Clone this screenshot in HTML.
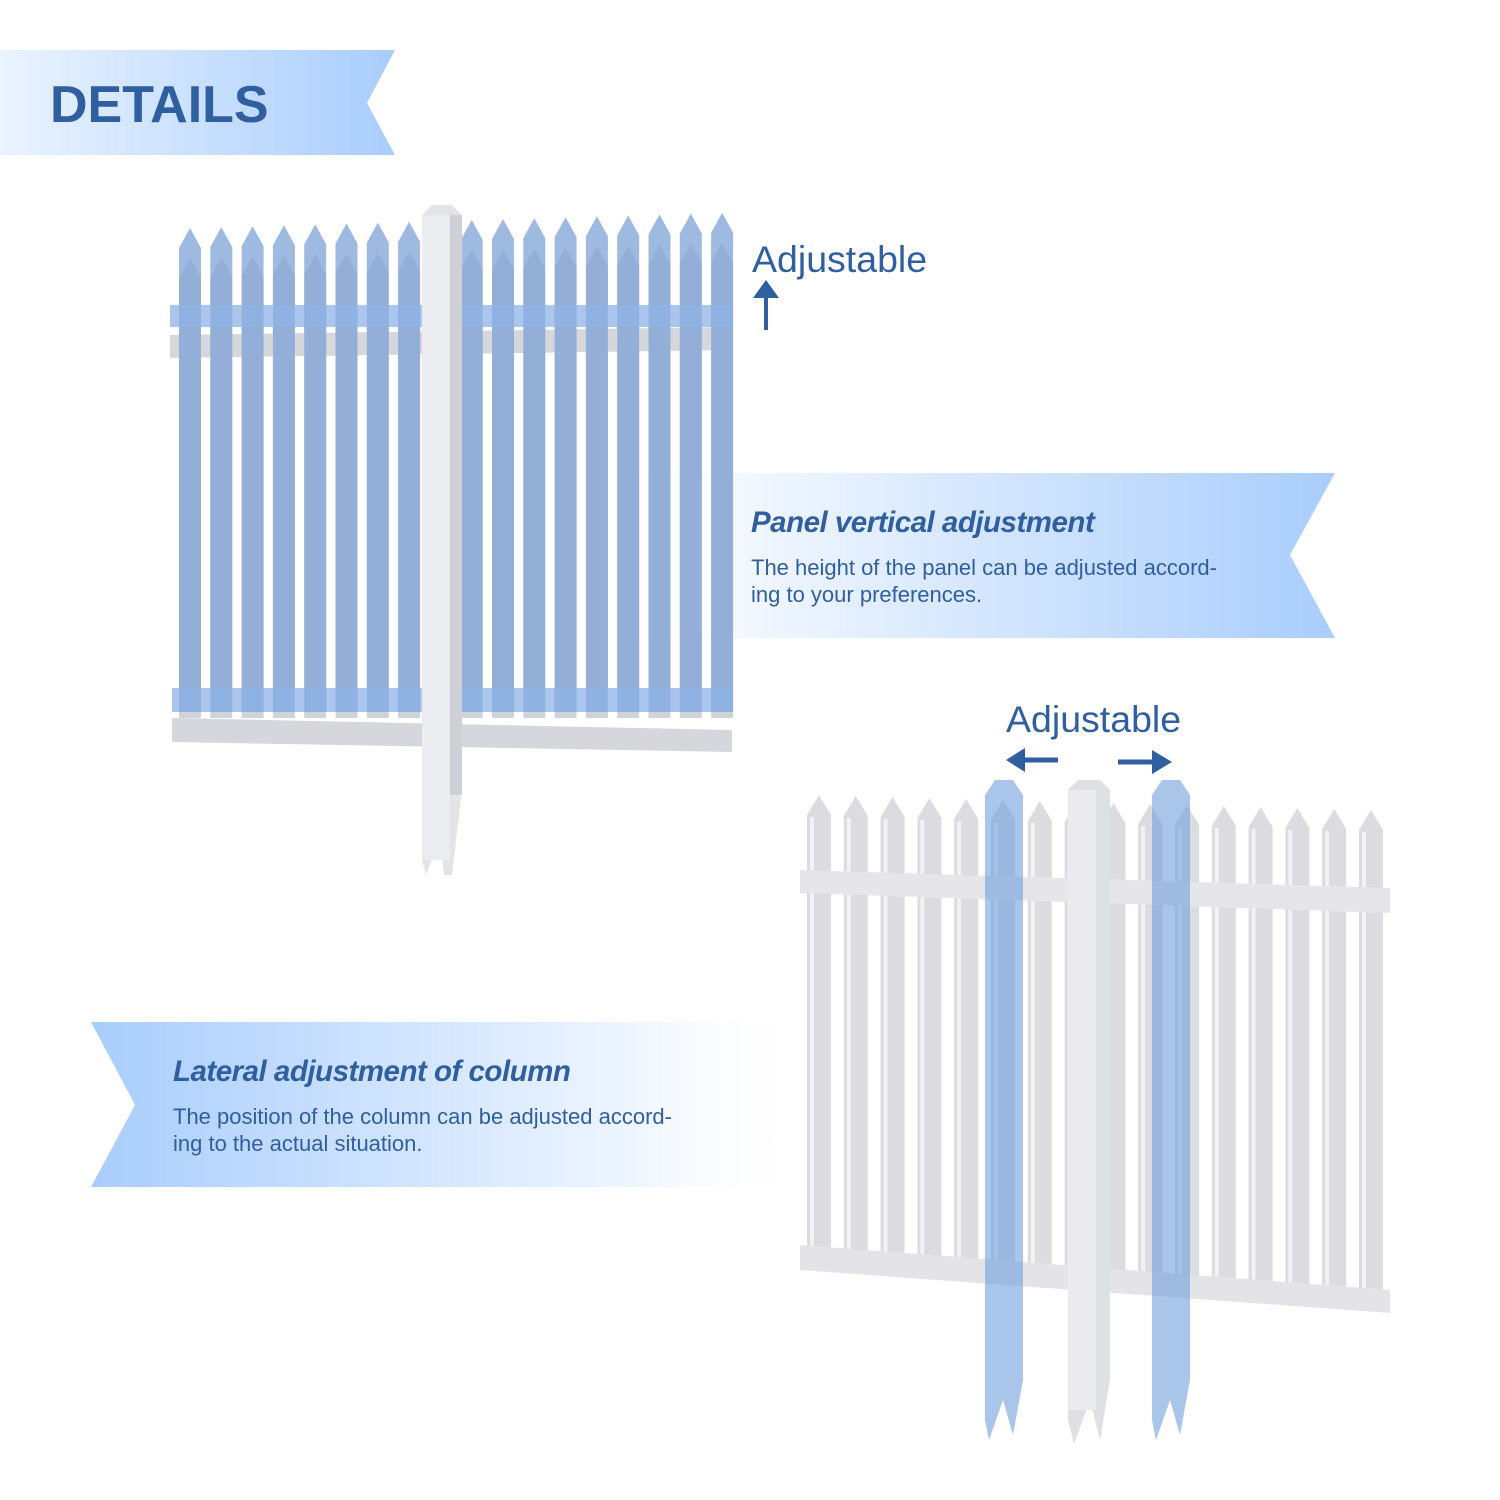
<!DOCTYPE html>
<html><head><meta charset="utf-8"><style>
html,body{margin:0;padding:0;background:#fff;width:1500px;height:1500px;overflow:hidden}
svg{display:block}
</style></head><body>
<svg id="s" width="1500" height="1500" viewBox="0 0 1500 1500" xmlns="http://www.w3.org/2000/svg">
<defs>
<linearGradient id="g1" x1="0" x2="1"><stop offset="0" stop-color="#eaf3ff"/><stop offset="1" stop-color="#a9cdfc"/></linearGradient>
<linearGradient id="g2" x1="0" x2="1"><stop offset="0" stop-color="#ffffff" stop-opacity="0"/><stop offset="0.25" stop-color="#eef5ff"/><stop offset="1" stop-color="#a9cdfc"/></linearGradient>
<linearGradient id="g3" x1="0" x2="1"><stop offset="0" stop-color="#a9cdfc"/><stop offset="0.75" stop-color="#eef5ff"/><stop offset="1" stop-color="#ffffff" stop-opacity="0"/></linearGradient>
</defs>
<polygon points="0,50 395,50 367,103 395,155 0,155" fill="url(#g1)"/>
<text x="50" y="122" font-family="Liberation Sans, sans-serif" font-weight="bold" font-size="52" fill="#2f5f9e">DETAILS</text>

<polygon points="590,473 1335,473 1290,555 1335,638 590,638" fill="url(#g2)"/>
<polygon points="91,1022 810,1022 810,1187 91,1187 135,1105" fill="url(#g3)"/>

<g id="f1"></g>
<g id="f2"></g>

<g font-family="Liberation Sans, sans-serif" fill="#2f5f9e">
<text x="752" y="272" font-size="37.5">Adjustable</text>
<text x="1006" y="732" font-size="37.5">Adjustable</text>
<text x="751" y="532" font-size="29.5" font-weight="bold" font-style="italic" letter-spacing="-0.5">Panel vertical adjustment</text>
<text x="751" y="575" font-size="22">The height of the panel can be adjusted accord-</text>
<text x="751" y="602" font-size="22">ing to your preferences.</text>
<text x="173" y="1081" font-size="29.5" font-weight="bold" font-style="italic" letter-spacing="-0.5">Lateral adjustment of column</text>
<text x="173" y="1124" font-size="22">The position of the column can be adjusted accord-</text>
<text x="173" y="1151" font-size="22">ing to the actual situation.</text>
</g>
<g fill="#2f5f9e" stroke="#2f5f9e">
<line x1="766" y1="330" x2="766" y2="295" stroke-width="4"/>
<polygon points="753,298 766,280 779,298" stroke="none"/>
<line x1="1058" y1="760" x2="1022" y2="760" stroke-width="5"/>
<polygon points="1025,748 1006,760 1025,772" stroke="none"/>
<line x1="1118" y1="762" x2="1155" y2="762" stroke-width="5"/>
<polygon points="1152,750 1172,762 1152,774" stroke="none"/>
</g>
</svg>
<script>
var NS="http://www.w3.org/2000/svg";
function el(p,t,a){var e=document.createElementNS(NS,t);for(var k in a)e.setAttribute(k,a[k]);p.appendChild(e);return e;}
function picket(p,x,w,top,bot,fill,op){
  el(p,"polygon",{points:(x)+","+(top+20)+" "+(x+w/2)+","+top+" "+(x+w)+","+(top+20)+" "+(x+w)+","+bot+" "+x+","+bot,fill:fill,"fill-opacity":op||1});
}
var f1=document.getElementById("f1");
el(f1,"polygon",{points:"170,335 732,327 732,350 170,358",fill:"#d6d7dc"});
el(f1,"polygon",{points:"172,718 732,730 732,752 172,742",fill:"#d6d7dc"});
for(var i=0;i<18;i++){var x=179+i*31.3;var t=258-i*0.9;picket(f1,x,22,t,718,"#cfd3da");}
for(var i=0;i<18;i++){var x=179+i*31.3;var t=228-i*0.9;picket(f1,x,22,t,712,"#7fa3d6",0.75);}
el(f1,"rect",{x:170,y:305,width:562,height:22,fill:"#8fb3e6","fill-opacity":0.75});
el(f1,"rect",{x:172,y:688,width:560,height:24,fill:"#8fb3e6","fill-opacity":0.75});
el(f1,"polygon",{points:"422,215 432,205 452,205 462,215 462,790 452,875 444,875 440,840 426,875 422,860",fill:"#e3e4e8"});
el(f1,"rect",{x:422,y:215,width:28,height:645,fill:"#ebecef"});
el(f1,"rect",{x:450,y:215,width:12,height:580,fill:"#cfd0d5"});
var f2=document.getElementById("f2");
for(var i=0;i<16;i++){var x=807+i*36.8;var t=795+i*1;var b=1252+i*2.6;picket(f2,x,24,t,b,"#dcdce0");el(f2,"rect",{x:x+3,y:t+22,width:4,height:b-t-25,fill:"#f2f2f4"});}
el(f2,"polygon",{points:"800,870 1390,888 1390,913 800,893",fill:"#e6e6ea"});
el(f2,"polygon",{points:"800,1245 1390,1290 1390,1313 800,1270",fill:"#e4e4e8"});
el(f2,"polygon",{points:"1068,790 1078,780 1100,780 1110,790 1110,1380 1100,1440 1090,1400 1074,1444 1068,1420",fill:"#dfe0e4"});
el(f2,"rect",{x:1068,y:790,width:28,height:620,fill:"#ebebee"});
[985,1152].forEach(function(x){
  el(f2,"polygon",{points:x+","+795+" "+(x+10)+",780 "+(x+28)+",780 "+(x+38)+",795 "+(x+38)+",1380 "+(x+28)+",1435 "+(x+18)+",1400 "+(x+4)+",1440 "+x+",1420",fill:"#6f9fdc","fill-opacity":0.6});
});
</script>
</body></html>
